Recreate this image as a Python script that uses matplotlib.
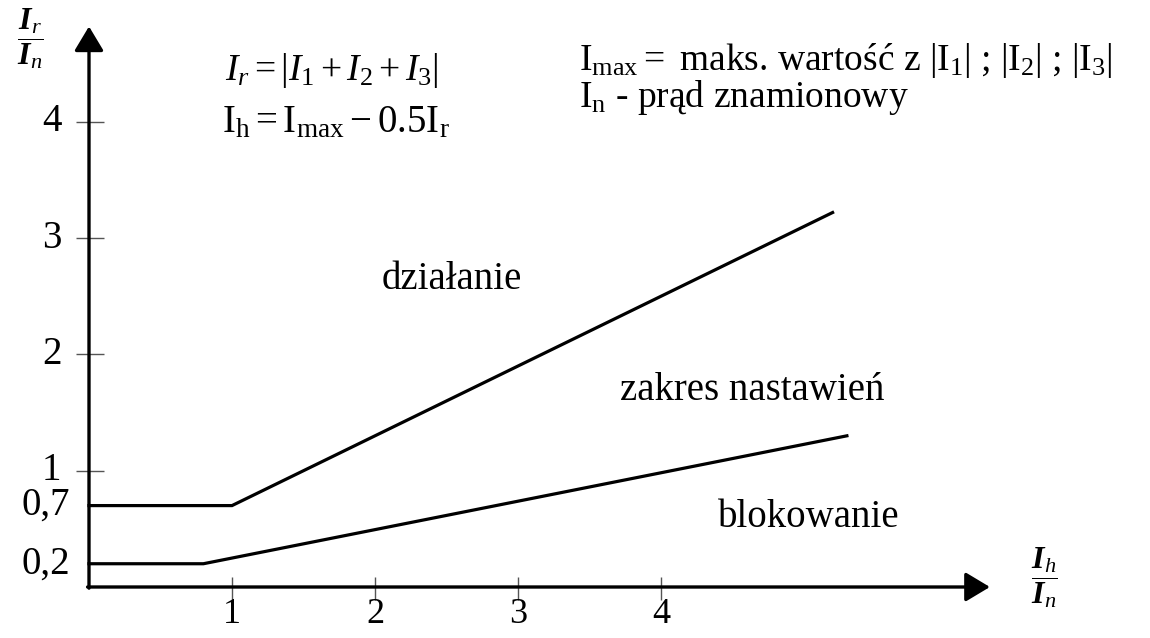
import matplotlib
matplotlib.use("Agg")
import matplotlib.pyplot as plt

# characteristic of the differential relay (stabilised)
upper_x = [0, 1, 5.2]
upper_y = [0.7, 0.7, 3.22]
lower_x = [0, 0.8, 5.3]
lower_y = [0.2, 0.2, 1.3]

x_ticks = [1, 2, 3, 4]
y_ticks = [1, 2, 3, 4]
y_extra = [0.7, 0.2]
y_extra_labels = ["0,7", "0,2"]

plt.rcParams["font.family"] = ["Liberation Serif", "DejaVu Serif"]
plt.rcParams["mathtext.fontset"] = "custom"
plt.rcParams["mathtext.rm"] = "Liberation Serif"
plt.rcParams["mathtext.it"] = "Liberation Serif:italic"
plt.rcParams["mathtext.bf"] = "Liberation Serif:bold"
plt.rcParams["mathtext.bfit"] = "Liberation Serif:italic:bold"

fig = plt.figure(figsize=(11.5, 6.38), dpi=100)
ax = fig.add_axes([0, 0, 1, 1])
ax.set_xlim(-89 / 143, 1061 / 143)
ax.set_ylim(-51 / 116.3, 587 / 116.3)
ax.axis("off")

# axes with arrow heads
arrow = dict(arrowstyle="-|>,head_length=0.5,head_width=0.3", lw=2.4,
             color="black", mutation_scale=30, shrinkA=0, shrinkB=0)
ax.annotate("", xy=(0, 4.82), xytext=(0, -0.01), arrowprops=arrow)
ax.annotate("", xy=(6.30, 0), xytext=(-0.01, 0), arrowprops=arrow)

# tick marks
ax.hlines(y_ticks, -0.09, 0.105, color="#555555", lw=1)
ax.vlines(x_ticks, -0.11, 0.085, color="#555555", lw=1)

for v in y_ticks:
    ax.text(-0.26, v, str(v), ha="center", va="center", fontsize=28)
for v, s in zip(y_extra, y_extra_labels):
    ax.text(-0.30, v, s, ha="center", va="center", fontsize=28)
for v in x_ticks:
    ax.text(v, -0.24, str(v), ha="center", va="center", fontsize=26)

# characteristic lines
ax.plot(upper_x, upper_y, color="black", lw=2.3, solid_joinstyle="miter")
ax.plot(lower_x, lower_y, color="black", lw=2.3, solid_joinstyle="miter")

# regions
ax.text(2.54, 2.64, "działanie", ha="center", va="center", fontsize=28)
ax.text(4.64, 1.69, "zakres nastawień", ha="center", va="center", fontsize=28)
ax.text(5.03, 0.60, "blokowanie", ha="center", va="center", fontsize=28)

# axis labels
ax.text(-0.41, 4.72, r"$\dfrac{\mathbfit{I}_{\mathit{r}}}{\mathbfit{I}_{\mathit{n}}}$",
        ha="center", va="center", fontsize=23)
ax.text(6.68, 0.08, r"$\dfrac{\mathbfit{I}_{\mathit{h}}}{\mathbfit{I}_{\mathit{n}}}$",
        ha="center", va="center", fontsize=23)

# formulas
ax.text(0.95, 4.36,
        r"$\mathit{I}_r = |\mathit{I}_1 + \mathit{I}_2 + \mathit{I}_3|$",
        ha="left", va="baseline", fontsize=27)
ax.text(0.93, 3.91,
        r"$\mathrm{I}_{\mathrm{h}} = \mathrm{I}_{\mathrm{max}} - 0.5\mathrm{I}_{\mathrm{r}}$",
        ha="left", va="baseline", fontsize=28)
ax.text(3.43, 4.445,
        r"$\mathrm{I}_{\mathrm{max}} =$ maks. wartość z $|\mathrm{I}_1|$ ; $|\mathrm{I}_2|$ ; $|\mathrm{I}_3|$",
        ha="left", va="baseline", fontsize=27)
ax.text(3.43, 4.127, r"$\mathrm{I}_{\mathrm{n}}$ - prąd znamionowy",
        ha="left", va="baseline", fontsize=27)

fig.savefig("out.png", dpi=100)
